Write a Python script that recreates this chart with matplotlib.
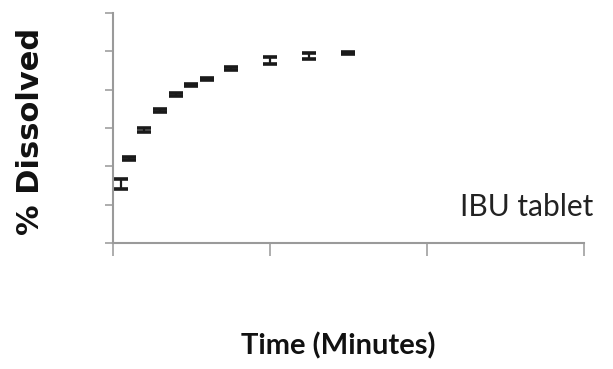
import matplotlib.pyplot as plt
from matplotlib import font_manager

# dissolution profile
time_min = [1, 2, 4, 6, 8, 10, 12, 15, 20, 25, 30]
pct_dissolved = [30.8, 43.9, 59.0, 69.3, 77.3, 82.5, 85.6, 90.9, 95.2, 97.7, 99.1]
pct_err = [2.5, 0.8, 1.0, 0.8, 0.7, 0.7, 0.7, 0.8, 2.0, 1.5, 0.7]

x_ticks = [0, 20, 40, 60]
y_ticks = [0, 20, 40, 60, 80, 100, 120]

# narrow font for the Calibri-looking labels, if there is one
names = {f.name for f in font_manager.fontManager.ttflist}
narrow = 'Liberation Sans Narrow' if 'Liberation Sans Narrow' in names else 'Lato'

fig = plt.figure(figsize=(6.13, 3.69), dpi=100)
ax = fig.add_axes([0.1843, 0.3415, 0.7684, 0.6233])

ax.errorbar(time_min, pct_dissolved, yerr=pct_err, fmt='none',
            ecolor='#1a1a1a', elinewidth=1.6, capsize=5, capthick=2.6)

ax.set_xlim(0, 60)
ax.set_ylim(0, 120)
ax.set_xticks(x_ticks)
ax.set_yticks(y_ticks)
ax.set_xticklabels([])
ax.set_yticklabels([])
ax.tick_params(axis='x', direction='out', length=9, width=1.2, color='#a0a0a0')
ax.tick_params(axis='y', direction='out', length=6, width=1.2, color='#a0a0a0')

for side in ['top', 'right']:
    ax.spines[side].set_visible(False)
for side in ['left', 'bottom']:
    ax.spines[side].set_color('#9a9a9a')
    ax.spines[side].set_linewidth(1.5)

fig.text(0.049, 0.645, '% Dissolved', rotation=90, ha='center', va='center',
         fontsize=22, fontweight='bold', family='DejaVu Sans', color='#111111')
fig.text(0.551, 0.063, 'Time (Minutes)', ha='center', va='center',
         fontsize=21, fontweight='bold', family=narrow, color='#111111')
fig.text(0.859, 0.44, 'IBU tablet', ha='center', va='center',
         fontsize=21.5, family=narrow, color='#222222')

fig.savefig('out.png', dpi=100)
